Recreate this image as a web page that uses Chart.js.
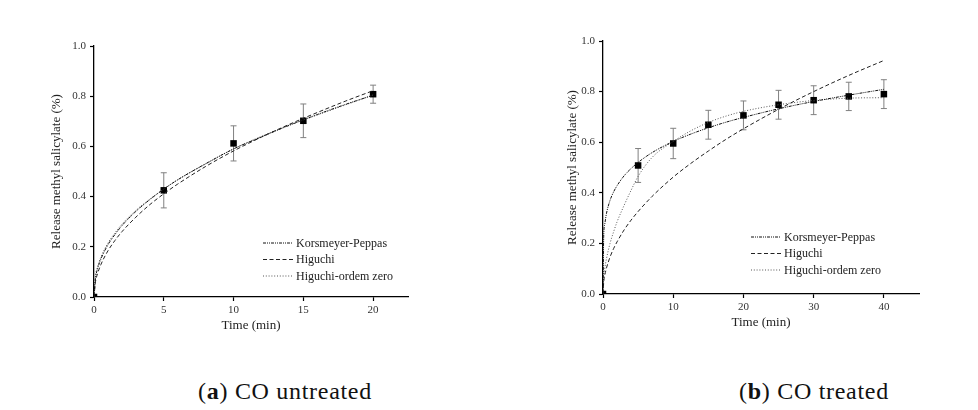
<!DOCTYPE html>
<html>
<head>
<meta charset="utf-8">
<script src="https://cdn.jsdelivr.net/npm/chart.js@4"></script>
<style>
  body { margin: 0; background: #fff; width: 978px; height: 410px; position: relative; overflow: hidden; }
  canvas { position: absolute; top: 0; }
  #chartA { left: 0; }
  #chartB { left: 489px; }
  .caption { position: absolute; top: 378px; font-family: 'Liberation Serif', serif; font-size: 24px; letter-spacing: 0.7px; color: #111; transform: translateX(-50%); white-space: nowrap; }
</style>
</head>
<body>
<canvas id="chartA" width="489" height="345"></canvas>
<canvas id="chartB" width="489" height="345"></canvas>
<div class="caption" style="left:285px">(<b>a</b>) CO untreated</div>
<div class="caption" style="left:814px">(<b>b</b>) CO treated</div>
<script>
// (a) CO untreated - measured points
const timeA = [0, 5, 10, 15, 20];
const releaseA = [0, 0.425, 0.612, 0.702, 0.808];
const errorA = [0, 0.07, 0.07, 0.067, 0.036];
// (a) fitted curves
const curveTimeA = [0, 0.1, 0.25, 0.5, 1, 1.5, 2, 3, 4, 5, 6, 8, 10, 12, 14, 16, 18, 20];
const peppasA = [0, 0.073, 0.111, 0.152, 0.208, 0.249, 0.284, 0.341, 0.388, 0.43, 0.467, 0.531, 0.59, 0.638, 0.684, 0.727, 0.767, 0.804];
const higuchiA = [0, 0.058, 0.092, 0.13, 0.184, 0.225, 0.26, 0.318, 0.368, 0.411, 0.45, 0.52, 0.582, 0.637, 0.688, 0.735, 0.78, 0.822];
const zeroOrderA = [0, 0.08, 0.12, 0.16, 0.215, 0.255, 0.29, 0.345, 0.39, 0.43, 0.467, 0.53, 0.59, 0.64, 0.685, 0.725, 0.765, 0.805];

// (b) CO treated - measured points
const timeB = [0, 5, 10, 15, 20, 25, 30, 35, 40];
const releaseB = [0, 0.508, 0.595, 0.669, 0.706, 0.748, 0.766, 0.781, 0.79];
const errorB = [0, 0.067, 0.06, 0.057, 0.057, 0.057, 0.057, 0.056, 0.057];
// (b) fitted curves
const curveTimeB = [0, 0.1, 0.25, 0.5, 1, 1.5, 2, 3, 4, 5, 7, 10, 12.5, 15, 17.5, 20, 25, 30, 35, 40];
const peppasB = [0, 0.227, 0.276, 0.319, 0.37, 0.403, 0.428, 0.467, 0.496, 0.52, 0.559, 0.603, 0.632, 0.657, 0.679, 0.698, 0.732, 0.761, 0.786, 0.809];
const higuchiB = [0, 0.046, 0.073, 0.103, 0.146, 0.179, 0.206, 0.253, 0.292, 0.326, 0.386, 0.462, 0.516, 0.565, 0.611, 0.653, 0.73, 0.8, 0.864, 0.923];
const zeroOrderB = [0, 0.06, 0.1, 0.14, 0.2, 0.245, 0.285, 0.35, 0.41, 0.465, 0.54, 0.603, 0.645, 0.678, 0.703, 0.722, 0.748, 0.765, 0.774, 0.776];

const modelNames = ['Korsmeyer-Peppas', 'Higuchi', 'Higuchi-ordem zero'];
const yTicks = [0, 0.2, 0.4, 0.6, 0.8, 1.0];

const FONT = 'Liberation Serif';
const dashes = [[3, 1, 1, 1, 1, 1], [4, 2.5], [1, 1.8]];
const lineColors = ['#111', '#222', '#555'];

const pts = (xs, ys) => xs.map((x, i) => ({ x: x, y: ys[i] }));

// error bars + in-chart legend
const extrasPlugin = {
  id: 'extras',
  beforeDatasetsDraw(chart, args, opts) {
    const { ctx, scales: { x, y } } = chart;
    ctx.save();
    ctx.strokeStyle = '#808080';
    ctx.lineWidth = 1;
    opts.times.forEach((t, i) => {
      const e = opts.errors[i];
      if (!e) return;
      const px = x.getPixelForValue(t);
      const top = y.getPixelForValue(opts.values[i] + e);
      const bot = y.getPixelForValue(opts.values[i] - e);
      ctx.beginPath();
      ctx.moveTo(px, top); ctx.lineTo(px, bot);
      ctx.moveTo(px - 3, top); ctx.lineTo(px + 3, top);
      ctx.moveTo(px - 3, bot); ctx.lineTo(px + 3, bot);
      ctx.stroke();
    });
    ctx.restore();
  },
  afterDraw(chart, args, opts) {
    const { ctx, chartArea } = chart;
    ctx.save();
    ctx.font = '12px "' + FONT + '"';
    ctx.textBaseline = 'middle';
    modelNames.forEach((name, i) => {
      const lx = chartArea.right - opts.dx;
      const ly = chartArea.bottom - opts.dy + i * 16.5;
      ctx.strokeStyle = lineColors[i];
      ctx.lineWidth = 1;
      ctx.setLineDash(dashes[i]);
      ctx.beginPath();
      ctx.moveTo(lx, ly); ctx.lineTo(lx + 30, ly);
      ctx.stroke();
      ctx.setLineDash([]);
      ctx.fillStyle = '#222';
      ctx.fillText(name, lx + 33, ly + 0.5);
    });
    ctx.restore();
  }
};

function makeChart(id, o) {
  const curveSets = o.curves.map((c, i) => ({
    label: modelNames[i],
    data: pts(o.curveTime, c),
    borderColor: lineColors[i],
    borderWidth: 1,
    borderDash: dashes[i],
    pointRadius: 0,
    fill: false,
    cubicInterpolationMode: 'monotone'
  }));
  return new Chart(document.getElementById(id), {
    type: 'line',
    data: {
      datasets: [
        ...curveSets,
        {
          label: 'measured',
          data: pts(o.times, o.values),
          showLine: false,
          pointStyle: 'rect',
          pointRadius: 4.6,
          pointBackgroundColor: '#000',
          pointBorderColor: '#000',
          pointBorderWidth: 0
        }
      ]
    },
    options: {
      responsive: false,
      animation: false,
      layout: { padding: o.padding },
      plugins: {
        legend: { display: false },
        tooltip: { enabled: false },
        extras: { times: o.times, values: o.values, errors: o.errors, dx: o.legendDx, dy: o.legendDy }
      },
      scales: {
        x: {
          type: 'linear',
          min: 0,
          max: o.xMax,
          afterFit: s => { s.height = o.xHeight; },
          ticks: { stepSize: o.xStep, includeBounds: false, color: '#333', padding: 3, font: { family: FONT, size: 11 } },
          grid: { drawOnChartArea: false, drawTicks: true, tickLength: 4, color: '#000', tickWidth: 1.2 },
          border: { color: '#000', width: 1.3 },
          title: { display: true, text: 'Time (min)', color: '#222', font: { family: FONT, size: 13 }, padding: { top: 0, bottom: o.xTitlePad } }
        },
        y: {
          min: 0,
          max: 1,
          afterFit: s => { s.width = o.yWidth; },
          afterBuildTicks: s => { s.ticks = yTicks.map(v => ({ value: v })); },
          ticks: { color: '#333', padding: 4, font: { family: FONT, size: 11 }, callback: v => v.toFixed(1) },
          grid: { drawOnChartArea: false, drawTicks: true, tickLength: 4, color: '#000', tickWidth: 1.2 },
          border: { color: '#000', width: 1.3 },
          title: { display: true, text: 'Release methyl salicylate (%)', color: '#222', font: { family: FONT, size: 13 }, padding: { top: o.yTitlePad, bottom: 0 } }
        }
      }
    },
    plugins: [extrasPlugin]
  });
}

makeChart('chartA', {
  times: timeA, values: releaseA, errors: errorA,
  curveTime: curveTimeA, curves: [peppasA, higuchiA, zeroOrderA],
  xMax: 22.5, xStep: 5,
  padding: { left: 44, top: 46, right: 81, bottom: 0 },
  yWidth: 50, xHeight: 48, xTitlePad: 12, yTitlePad: 5,
  legendDx: 145, legendDy: 54
});

makeChart('chartB', {
  times: timeB, values: releaseB, errors: errorB,
  curveTime: curveTimeB, curves: [peppasB, higuchiB, zeroOrderB],
  xMax: 45, xStep: 10,
  padding: { left: 70, top: 41, right: 59, bottom: 0 },
  yWidth: 44, xHeight: 51, xTitlePad: 15, yTitlePad: 6,
  legendDx: 168, legendDy: 57
});
</script>
</body>
</html>
